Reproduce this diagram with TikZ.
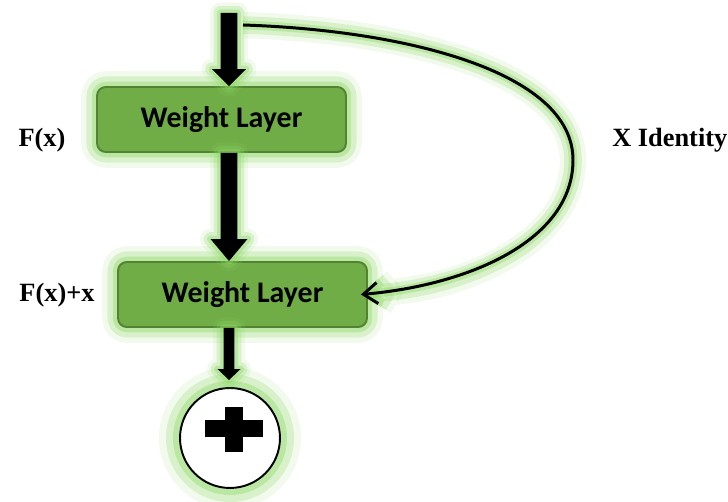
\documentclass[tikz,border=0pt]{standalone}
\usepackage{fontspec}
\setmainfont{Liberation Serif}
\newfontfamily\layerfont{Carlito}
\usetikzlibrary{arrows.meta,calc,positioning}
\definecolor{layergreen}{RGB}{112,173,71}
\definecolor{layerborder}{RGB}{84,130,53}
\definecolor{glowgreen}{RGB}{140,215,100}

\tikzset{
  glow/.style={preaction={draw=glowgreen,opacity=.12,line width=#1*1.5,line join=round},
               preaction={draw=glowgreen,opacity=.25,line width=#1,line join=round},
               preaction={draw=glowgreen,opacity=.4,line width=#1/2,line join=round}},
  layer/.style={draw=layerborder,fill=layergreen,line width=1.1pt,rounded corners=5pt,
                minimum width=4.98cm,minimum height=1.3cm,
                font=\layerfont\bfseries\fontsize{17}{19}\selectfont,glow=12pt},
  sidetext/.style={font=\bfseries\fontsize{15}{18}\selectfont},
  sumnode/.style={circle,draw,fill=white,line width=1.1pt,minimum size=2cm,glow=16pt}
}

% from, to, shaft half width, head half width, head length
\newcommand{\blockarrow}[5]{
  \fill[glow=8pt] let \p1=(#1), \p2=(#2) in
    (\x1-#3,\y1) -- (\x1+#3,\y1) -- (\x1+#3,\y2+#5) -- (\x1+#4,\y2+#5)
    -- (\x1,\y2) -- (\x1-#4,\y2+#5) -- (\x1-#3,\y2+#5) -- cycle;
}

\begin{document}
\begin{tikzpicture}[x=0.02cm,y=-0.02cm]
  \useasboundingbox (0,0) rectangle (728,502);

  \coordinate (top) at (229,13);
  \coordinate (loopstart) at (243,25);

  \node[layer] (w1) at (221.5,119.5) {Weight Layer};
  \node[layer] (w2) at (242.5,294.5) {Weight Layer};
  \node[sumnode] (sum) at (230,438) {};
  \fill ($(sum.center)+(-25,-18)$) rectangle ($(sum.center)+(33,-1)$);
  \fill ($(sum.center)+(-5,-31)$) rectangle ($(sum.center)+(13,14)$);

  \blockarrow{top}{w1.north -| top}{4.8pt}{9.6pt}{9.6pt}
  \blockarrow{w1.south -| top}{w2.north -| top}{4.8pt}{10.5pt}{12.5pt}
  \blockarrow{w2.south -| top}{[yshift=4pt]sum.north}{3.1pt}{6.5pt}{6.2pt}

  \draw[line width=1.7pt,-{Straight Barb[length=8pt,width=12pt]},glow=10pt]
    (loopstart) .. controls (400,30) and (573,70) .. (573,160)
    .. controls (573,240) and (470,285) .. ([xshift=-4pt]w2.east);

  \node[sidetext] (fx) at (42,140) {F(x)};
  \node[sidetext] (fxx) at (57,295) {F(x)+x};
  \node[sidetext,anchor=west,inner sep=0pt] (ident) at (612,140) {X Identity};
\end{tikzpicture}
\end{document}
